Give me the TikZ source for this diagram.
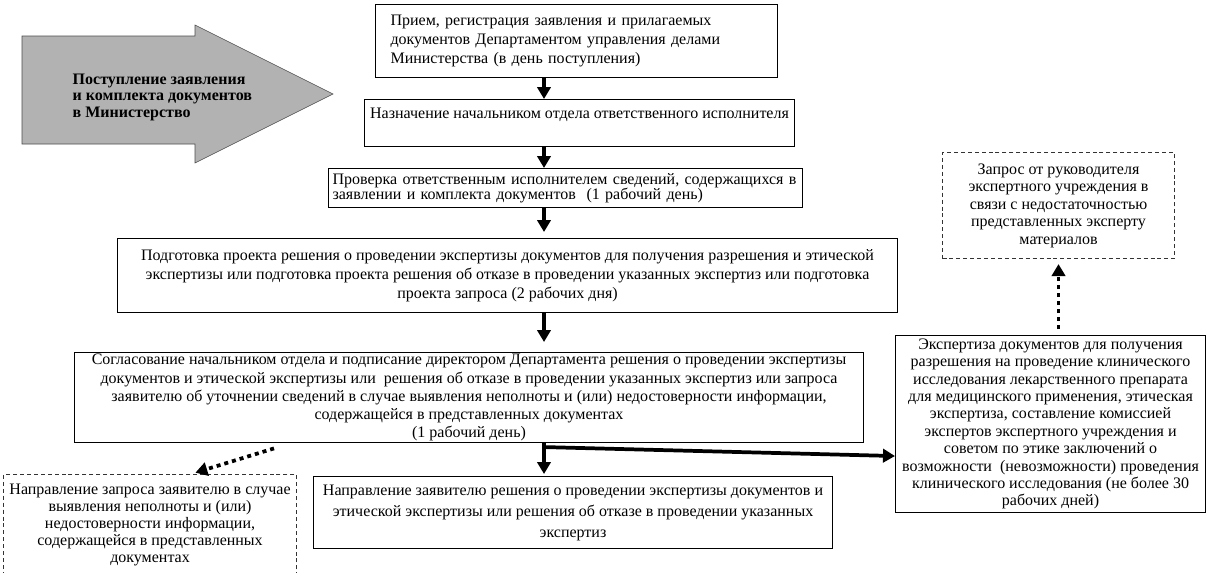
\documentclass[tikz,border=0pt]{standalone}
\usepackage{fontspec}
\setmainfont{Liberation Serif}
\usetikzlibrary{arrows.meta}

\begin{document}
\begin{tikzpicture}[x=0.75pt,y=-0.75pt,
    box/.style={draw,line width=0.8pt,anchor=north west,inner sep=3pt,font=\fontsize{12}{14.5}\selectfont},
    dbox/.style={box,draw=black!80,dash pattern=on 3pt off 2.2pt},
    flow/.style={line width=2.8pt,-{Triangle[length=9pt,width=10pt]}},
    dotflow/.style={flow,dash pattern=on 3pt off 3pt}]
    \useasboundingbox (0,0) rectangle (1208,572);
    \coordinate (axis) at (544,0);
    \draw[black!70,fill=black!30] (22,36) -- (195,36) -- (195,25) -- (333,94) -- (195,163) -- (195,144) -- (22,144) -- cycle;
    \node[anchor=west,align=left,font=\fontsize{12}{12.4}\selectfont\bfseries] (arrive) at (68,97) {Поступление заявления\\и комплекта документов\\в Министерство};
    \node[box,minimum width=301.5pt,minimum height=54.75pt,text width=279pt,align=left] (receipt) at (375,4) {Прием, регистрация заявления и прилагаемых\\документов Департаментом управления делами\\Министерства (в день поступления)};
    \node[box,minimum width=322.5pt,minimum height=35.25pt,align=left,text depth=14pt] (assign) at (364,99) {Назначение начальником отдела ответственного исполнителя};
    \node[box,minimum width=355.5pt,minimum height=29.25pt,text width=349.5pt,align=left,inner ysep=1pt,font=\fontsize{12}{11.5}\selectfont] (check) at (328,168) {Проверка ответственным исполнителем сведений, содержащихся в\\заявлении и комплекта документов~~(1 рабочий день)};
    \node[box,minimum width=585pt,minimum height=55.5pt,align=center,font=\fontsize{12}{14.25}\selectfont] (draft) at (117,238) {Подготовка проекта решения о проведении экспертизы документов для получения разрешения и этической\\экспертизы или подготовка проекта решения об отказе в проведении указанных экспертиз или подготовка\\проекта запроса (2 рабочих дня)};
    \node[box,minimum width=591.75pt,minimum height=67.5pt,align=center,inner ysep=1pt,font=\fontsize{12}{13.6}\selectfont] (approve) at (74,352) {Согласование начальником отдела и подписание директором Департамента решения о проведении экспертизы\\документов и этической экспертизы или~~решения об отказе в проведении указанных экспертиз или запроса\\заявителю об уточнении сведений в случае выявления неполноты и (или) недостоверности информации,\\содержащейся в представленных документах\\(1 рабочий день)};
    \node[box,minimum width=389.25pt,minimum height=54pt,align=center,font=\fontsize{12}{15.75}\selectfont] (notify) at (313,476) {Направление заявителю решения о проведении экспертизы документов и\\этической экспертизы или решения об отказе в проведении указанных\\экспертиз};
    \node[dbox,minimum width=219.75pt,minimum height=75pt,align=center,font=\fontsize{12}{12.75}\selectfont] (request) at (3,474) {Направление запроса заявителю в случае\\выявления неполноты и (или)\\недостоверности информации,\\содержащейся в представленных\\документах};
    \node[dbox,minimum width=174pt,minimum height=79.5pt,align=center,font=\fontsize{12}{13.1}\selectfont] (query) at (942,152) {Запрос от руководителя\\экспертного учреждения в\\связи с недостаточностью\\представленных эксперту\\материалов};
    \node[box,minimum width=232.5pt,minimum height=132.75pt,align=center,inner sep=1pt,font=\fontsize{12}{13.05}\selectfont] (expertise) at (895,335) {Экспертиза документов для получения\\разрешения на проведение клинического\\исследования лекарственного препарата\\для медицинского применения, этическая\\экспертиза, составление комиссией\\экспертов экспертного учреждения и\\советом по этике заключений о\\возможности~~(невозможности) проведения\\клинического исследования (не более 30\\рабочих дней)};
    \draw[flow] (receipt.south -| axis) -- (assign.north -| axis);
    \draw[flow] (assign.south -| axis) -- (check.north -| axis);
    \draw[flow] (check.south -| axis) -- ([yshift=4.5pt]draft.north -| axis);
    \draw[flow] (draft.south -| axis) -- ([yshift=7.5pt]approve.north -| axis);
    \draw[flow] (approve.south -| axis) -- ([yshift=1.5pt]notify.north -| axis);
    \draw[flow] ([yshift=-3pt]approve.south -| axis) -- ([yshift=-24pt]expertise.west);
    \draw[dotflow] ([xshift=150pt,yshift=-4pt]approve.south west) -- ([xshift=34pt,yshift=1pt]request.north);
    \draw[dotflow] ([yshift=4.5pt]expertise.north -| query.south) -- ([yshift=-3.75pt]query.south);
\end{tikzpicture}
\end{document}
